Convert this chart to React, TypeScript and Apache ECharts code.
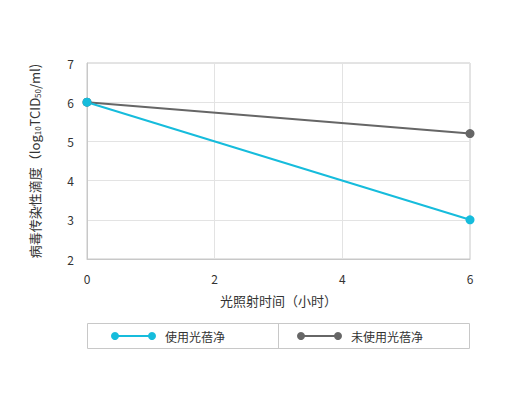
import React, { useEffect, useRef } from "react";
import * as echarts from "echarts";

const times = [0, 6];
const withPurifier = [6, 3];
const withoutPurifier = [6, 5.2];
const seriesNames = ["使用光蓓净", "未使用光蓓净"];
const colors = ["#16BCDC", "#666666"];
const xAxisName = "光照射时间（小时）";

const FONT = "'Noto Sans CJK SC', 'Noto Sans', sans-serif";

export default function App() {
  const ref = useRef<HTMLDivElement>(null);
  useEffect(() => {
    if (!ref.current) return;
    const chart = echarts.init(ref.current, undefined, { renderer: "svg" });
    const pair = (ys: number[]) => times.map((t, i) => [t, ys[i]]);
    const legendItem = (x: number, color: string, label: string) => ({
      type: "group",
      children: [
        { type: "line", shape: { x1: x, y1: 336, x2: x + 37, y2: 336 }, style: { stroke: color, lineWidth: 2 } },
        { type: "circle", shape: { cx: x, cy: 336, r: 4 }, style: { fill: color } },
        { type: "circle", shape: { cx: x + 37, cy: 336, r: 4 }, style: { fill: color } },
        {
          type: "text",
          x: x + 50,
          y: 336,
          style: { text: label, fill: "#333", font: `12px ${FONT}`, textVerticalAlign: "middle" },
        },
      ],
    });
    chart.setOption({
      animation: false,
      textStyle: { fontFamily: FONT },
      grid: { left: 87, top: 63, width: 383, height: 196, show: true, borderColor: "#c8c8c8", borderWidth: 1 },
      xAxis: {
        type: "value",
        min: 0,
        max: 6,
        interval: 2,
        name: xAxisName,
        nameLocation: "middle",
        nameGap: 35,
        nameTextStyle: { fontSize: 13, color: "#333" },
        axisLine: { show: true, lineStyle: { color: "#c8c8c8" } },
        axisTick: { show: false },
        axisLabel: { color: "#333", fontSize: 12, margin: 13 },
        splitLine: { show: true, lineStyle: { color: "#e3e3e3" } },
      },
      yAxis: {
        type: "value",
        min: 2,
        max: 7,
        interval: 1,
        name: "病毒传染性滴度（log{sub|10}TCID{sub|50}/ml)",
        nameLocation: "middle",
        nameRotate: 90,
        nameGap: 46,
        nameTextStyle: {
          fontSize: 13,
          color: "#333",
          rich: {
            sub: { fontSize: 8, color: "#333", verticalAlign: "bottom", padding: [6, 0, 0, 0] },
          },
        },
        axisLine: { show: true, lineStyle: { color: "#c8c8c8" } },
        axisTick: { show: false },
        axisLabel: { color: "#333", fontSize: 12, margin: 13 },
        splitLine: { show: true, lineStyle: { color: "#e3e3e3" } },
      },
      series: [
        {
          name: seriesNames[1],
          type: "line",
          data: pair(withoutPurifier),
          symbol: "circle",
          symbolSize: 9,
          itemStyle: { color: colors[1] },
          lineStyle: { color: colors[1], width: 2 },
        },
        {
          name: seriesNames[0],
          type: "line",
          data: pair(withPurifier),
          symbol: "circle",
          symbolSize: 9,
          itemStyle: { color: colors[0] },
          lineStyle: { color: colors[0], width: 2 },
        },
      ],
      graphic: [
        {
          type: "rect",
          shape: { x: 87.5, y: 323.5, width: 382, height: 25 },
          style: { fill: "none", stroke: "#c8c8c8", lineWidth: 1 },
        },
        {
          type: "line",
          shape: { x1: 278.5, y1: 323.5, x2: 278.5, y2: 348.5 },
          style: { stroke: "#c8c8c8", lineWidth: 1 },
        },
        legendItem(115, colors[0], seriesNames[0]),
        legendItem(301, colors[1], seriesNames[1]),
      ],
    });
    return () => chart.dispose();
  }, []);
  return (
    <div
      ref={ref}
      style={{ position: "fixed", left: 0, top: 0, width: 510, height: 397, background: "#fff" }}
    />
  );
}
